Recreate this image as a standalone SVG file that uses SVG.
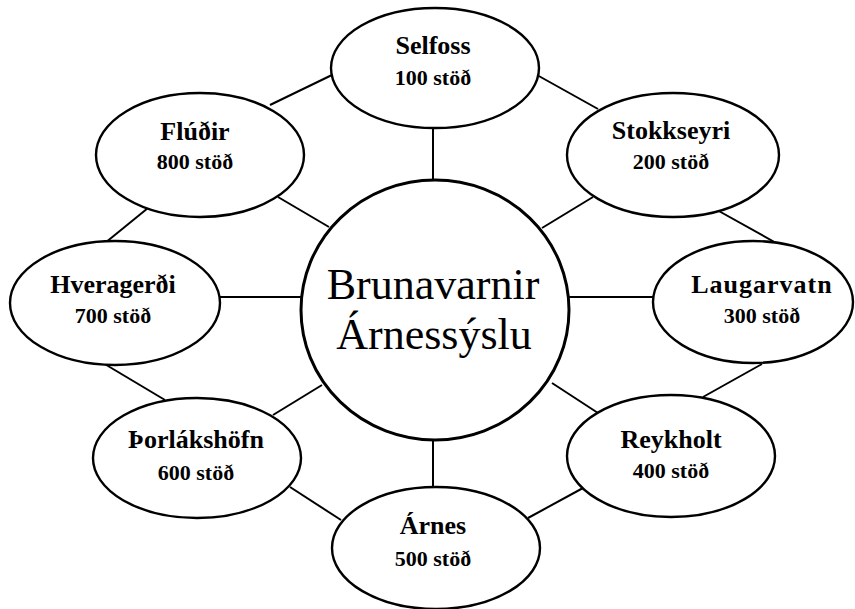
<svg xmlns="http://www.w3.org/2000/svg" width="855" height="609" viewBox="0 0 855 609">
<style>
.n{fill:#fff;stroke:#000;stroke-width:2.4}
.c{fill:#fff;stroke:#000;stroke-width:3}
.l{stroke:#000;stroke-width:2;fill:none}
.t1{font-family:"Liberation Serif","Times New Roman",serif;font-weight:bold;font-size:26px;text-anchor:middle;fill:#000}
.t2{font-family:"Liberation Serif","Times New Roman",serif;font-weight:bold;font-size:22px;text-anchor:middle;fill:#000}
.tc{font-family:"Liberation Serif","Times New Roman",serif;font-size:44px;text-anchor:middle;fill:#000}
</style>
<rect width="855" height="609" fill="#fff"/>
<g id="connectors" class="l">
<line x1="433" y1="128" x2="433" y2="181"/>
<line x1="433" y1="439" x2="433" y2="488"/>
<line x1="219" y1="297" x2="302" y2="297"/>
<line x1="568" y1="297" x2="654" y2="297"/>
<line x1="278" y1="197" x2="329" y2="227"/>
<line x1="593" y1="197" x2="542" y2="228"/>
<line x1="273" y1="415" x2="322" y2="385"/>
<line x1="552" y1="383" x2="598" y2="413"/>
<line x1="270" y1="105" x2="334" y2="74"/>
<line x1="537" y1="75" x2="598" y2="109"/>
<line x1="717" y1="210" x2="778" y2="244"/>
<line x1="703" y1="397" x2="762" y2="364"/>
<line x1="528" y1="518" x2="583" y2="488"/>
<line x1="290" y1="487" x2="341" y2="520"/>
<line x1="103" y1="363" x2="165" y2="400"/>
<line x1="148" y1="208" x2="105" y2="243"/>
</g>
<g id="center">
<ellipse class="c" cx="435" cy="310" rx="134" ry="130"/>
<text class="tc" x="433" y="299">Brunavarnir</text>
<text class="tc" x="434" y="349">Árnessýslu</text>
</g>
<g id="selfoss">
<ellipse class="n" cx="435" cy="68" rx="104" ry="60"/>
<text class="t1" x="433" y="54">Selfoss</text>
<text class="t2" x="433" y="85">100 stöð</text>
</g>
<g id="stokkseyri">
<ellipse class="n" cx="673" cy="155" rx="106" ry="62"/>
<text class="t1" x="671" y="139">Stokkseyri</text>
<text class="t2" x="671" y="169">200 stöð</text>
</g>
<g id="laugarvatn">
<ellipse class="n" cx="753" cy="302" rx="100" ry="61"/>
<text class="t1" x="762" y="293" letter-spacing="1">Laugarvatn</text>
<text class="t2" x="762" y="323">300 stöð</text>
</g>
<g id="reykholt">
<ellipse class="n" cx="671" cy="456" rx="104" ry="61"/>
<text class="t1" x="671" y="448">Reykholt</text>
<text class="t2" x="671" y="478">400 stöð</text>
</g>
<g id="arnes">
<ellipse class="n" cx="436" cy="548" rx="104" ry="61"/>
<text class="t1" x="433" y="534">Árnes</text>
<text class="t2" x="433" y="566">500 stöð</text>
</g>
<g id="thorlakshofn">
<ellipse class="n" cx="197" cy="458" rx="104" ry="60"/>
<text class="t1" x="196" y="448">Þorlákshöfn</text>
<text class="t2" x="196" y="480">600 stöð</text>
</g>
<g id="hveragerdi">
<ellipse class="n" cx="115" cy="303" rx="105" ry="62"/>
<text class="t1" x="113" y="293">Hveragerði</text>
<text class="t2" x="113" y="323">700 stöð</text>
</g>
<g id="fludir">
<ellipse class="n" cx="200" cy="155" rx="104" ry="62"/>
<text class="t1" x="195" y="140">Flúðir</text>
<text class="t2" x="195" y="169">800 stöð</text>
</g>
</svg>
